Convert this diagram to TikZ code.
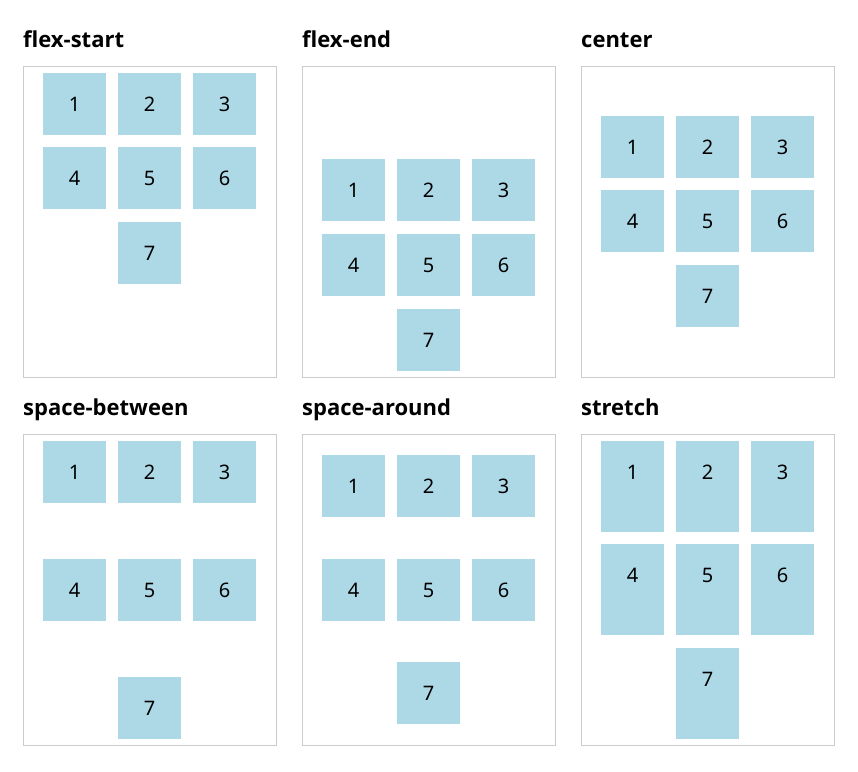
\documentclass[tikz,border=0pt]{standalone}
\usepackage{fontspec}
\setmainfont{Noto Sans}
\newfontfamily\headfont{Open Sans}
\usetikzlibrary{positioning}
\definecolor{itemblue}{HTML}{ADD8E6}
\definecolor{panelgray}{HTML}{CCCCCC}

\begin{document}
\begin{tikzpicture}[x=1pt, y=-1pt,
    panel/.style={draw=panelgray, line width=1.2pt, minimum width=253pt,
      minimum height=311pt, inner sep=0pt, anchor=north west},
    item/.style={fill=itemblue, minimum width=63pt, inner sep=0pt,
      anchor=north west, text height=38pt, font=\fontsize{20}{24}\selectfont},
    heading/.style={anchor=base west, inner sep=0pt,
      font=\headfont\bfseries\fontsize{22}{26}\selectfont}]
  \useasboundingbox (0,0) rectangle (858,771);
  % one panel per value: name/left/top/title/row tops/depth of the number box
  \foreach \name/\px/\py/\title/\ra/\rb/\rc/\dep in {
      fs/23/66/flex-start/73/147/222/24,
      fe/302/66/flex-end/159/234/309/24,
      ce/581/66/center/116/190/265/24,
      sb/23/434/space-between/441/559/677/24,
      sa/302/434/space-around/455/559/662/24,
      st/581/434/stretch/441/544/648/53} {
    \node[heading] (\name-t) at (\px,\py-19) {\title};
    \node[panel] (\name) at (\px,\py) {};
    \foreach \n/\c/\y in {1/0/\ra, 2/1/\ra, 3/2/\ra,
        4/0/\rb, 5/1/\rb, 6/2/\rb, 7/1/\rc}
      \node[item, text depth=\dep pt] (\name\n) at (\px+20+75*\c,\y) {\n};
  }
\end{tikzpicture}
\end{document}
